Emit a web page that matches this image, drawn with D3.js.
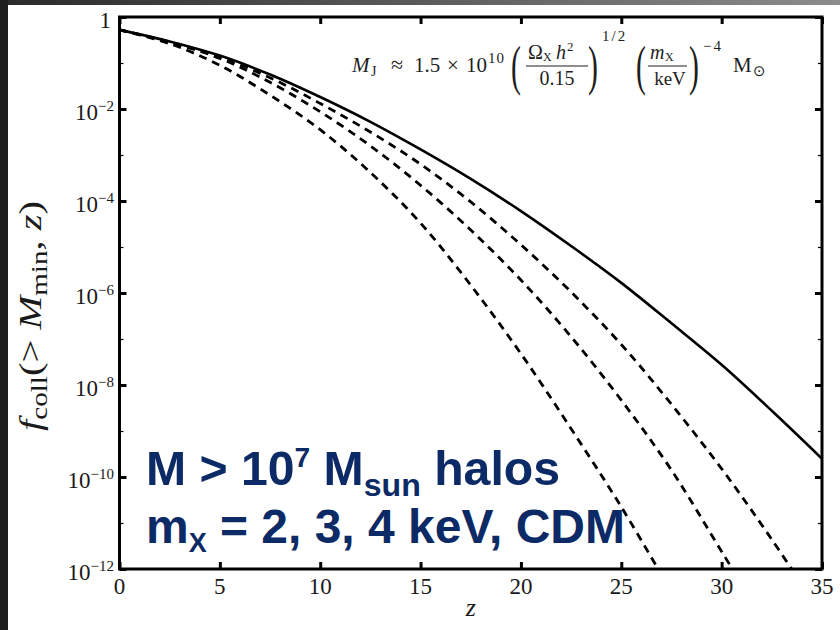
<!DOCTYPE html>
<html>
<head>
<meta charset="utf-8">
<script src="https://cdn.jsdelivr.net/npm/d3@7/dist/d3.min.js"></script>
<style>
  html, body { margin: 0; padding: 0; background: #fff; }
  svg { display: block; }
</style>
</head>
<body>
<svg id="chart" width="840" height="630"></svg>
<script>
// redshift grid of the read-off points
const zGrid = [0, 2.5, 5, 7.5, 10, 12.5, 15, 17.5, 20, 22.5, 25, 27.5, 30, 32.5, 35];

// f_coll(> M_min, z) (dashed ones run past the bottom edge)
const fCDM  = [0.525, 0.295, 0.145, 0.0562, 0.0182, 5.25e-3, 1.32e-3, 3.02e-4, 6.03e-5, 1.05e-5, 1.66e-6, 2.19e-7, 2.75e-8, 2.75e-9, 2.5e-10];
const f4keV = [0.525, 0.288, 0.135, 0.0479, 0.0132, 3.16e-3, 6.31e-4, 9.55e-5, 1.12e-5, 1.05e-6, 7.59e-8, 3.80e-9, 1.51e-10, 4.37e-12, 1.0e-13];
const f3keV = [0.525, 0.282, 0.126, 0.0380, 8.71e-3, 1.58e-3, 2.19e-4, 2.34e-5, 1.91e-6, 1.12e-7, 4.68e-9, 1.41e-10, 2.40e-12, 3.98e-14];
const f2keV = [0.525, 0.263, 0.0891, 0.0200, 3.55e-3, 4.17e-4, 3.31e-5, 1.48e-6, 4.79e-8, 1.12e-9, 2.24e-11, 3.16e-13];

// ticks
const xTicks = [0, 5, 10, 15, 20, 25, 30, 35];
const yMajor = [1, 1e-2, 1e-4, 1e-6, 1e-8, 1e-10, 1e-12];
const yMinor = [1e-1, 1e-3, 1e-5, 1e-7, 1e-9, 1e-11];
const yExp   = [0, -2, -4, -6, -8, -10, -12];

const lines = [
  { name: 'cdm', values: fCDM,  dashed: false },
  { name: 'k4',  values: f4keV, dashed: true },
  { name: 'k3',  values: f3keV, dashed: true },
  { name: 'k2',  values: f2keV, dashed: true }
];

const W = 840, H = 630;
const plot = { left: 119.5, right: 822, top: 17, bottom: 569 };
const serif = '"Liberation Serif", "DejaVu Serif", serif';

const svg = d3.select('#chart');

//page background with the dark slide edge
const defs = svg.append('defs');
const grad = defs.append('linearGradient').attr('id', 'topband');
grad.append('stop').attr('offset', '0%').attr('stop-color', '#2a2a2a');
grad.append('stop').attr('offset', '100%').attr('stop-color', '#8c8c8c');
defs.append('clipPath').attr('id', 'plotclip')
  .append('rect')
  .attr('x', plot.left).attr('y', plot.top)
  .attr('width', plot.right - plot.left).attr('height', plot.bottom - plot.top);

svg.append('rect').attr('width', W).attr('height', H).attr('fill', '#fff');
svg.append('rect').attr('width', W).attr('height', 5).attr('fill', 'url(#topband)');
svg.append('rect').attr('width', 8).attr('height', H).attr('fill', '#1e1e1e');

//scales
const x = d3.scaleLinear().domain([0, 35]).range([plot.left, plot.right]);
const y = d3.scaleLog().domain([1e-12, 1]).range([plot.bottom, plot.top]);

//curves
const lineGen = d3.line()
  .x((d, i) => x(zGrid[i]))
  .y(d => y(d))
  .curve(d3.curveCatmullRom.alpha(0.5));

const curves = svg.append('g').attr('clip-path', 'url(#plotclip)');
lines.forEach(l => {
  curves.append('path')
    .datum(l.values)
    .attr('fill', 'none')
    .attr('stroke', '#000')
    .attr('stroke-width', l.dashed ? 2.8 : 2.6)
    .attr('stroke-dasharray', l.dashed ? '8,6' : null)
    .attr('d', lineGen);
});

//axes: inward ticks on all four sides, labels drawn separately
const tickLen = 7;
const axisBottom = d3.axisBottom(x).tickValues(xTicks).tickSize(-tickLen).tickFormat('');
const axisTop = d3.axisTop(x).tickValues(xTicks).tickSize(-tickLen).tickFormat('');
const axisLeft = d3.axisLeft(y).tickValues(yMajor).tickSize(-tickLen).tickFormat('');
const axisRight = d3.axisRight(y).tickValues(yMajor).tickSize(-tickLen).tickFormat('');
const minorLeft = d3.axisLeft(y).tickValues(yMinor).tickSize(-4).tickFormat('');
const minorRight = d3.axisRight(y).tickValues(yMinor).tickSize(-4).tickFormat('');

function styleAxis(g, w) {
  g.select('.domain').remove();
  g.selectAll('.tick line').attr('stroke', '#000').attr('stroke-width', w);
}

svg.append('g').attr('transform', `translate(0,${plot.bottom})`).call(axisBottom).call(g => styleAxis(g, 3));
svg.append('g').attr('transform', `translate(0,${plot.top})`).call(axisTop).call(g => styleAxis(g, 3));
svg.append('g').attr('transform', `translate(${plot.left},0)`).call(axisLeft).call(g => styleAxis(g, 3));
svg.append('g').attr('transform', `translate(${plot.right},0)`).call(axisRight).call(g => styleAxis(g, 3));
svg.append('g').attr('transform', `translate(${plot.left},0)`).call(minorLeft).call(g => styleAxis(g, 1.2));
svg.append('g').attr('transform', `translate(${plot.right},0)`).call(minorRight).call(g => styleAxis(g, 1.2));

//frame
svg.append('rect')
  .attr('x', plot.left).attr('y', plot.top)
  .attr('width', plot.right - plot.left).attr('height', plot.bottom - plot.top)
  .attr('fill', 'none').attr('stroke', '#000').attr('stroke-width', 3);

//tick labels
const tickText = '#1a1a1a';
svg.append('g').selectAll('text')
  .data(xTicks)
  .join('text')
  .attr('x', d => x(d)).attr('y', 594)
  .attr('text-anchor', 'middle')
  .attr('font-family', serif).attr('font-size', 23).attr('fill', tickText)
  .text(d => d);

const yLab = svg.append('g').selectAll('text')
  .data(yMajor.map((v, i) => ({ v, e: yExp[i] })))
  .join('text')
  .attr('x', d => d.e === 0 ? 111 : 114)
  .attr('y', d => y(d.v) + 11)
  .attr('text-anchor', 'end')
  .attr('font-family', serif).attr('font-size', 23).attr('fill', tickText);
yLab.filter(d => d.e === 0).text('1');
yLab.filter(d => d.e !== 0).each(function(d) {
  const t = d3.select(this);
  t.append('tspan').text('10');
  t.append('tspan').attr('dy', -9).attr('font-size', 15).text('\u2212' + (-d.e));
});

//axis titles
svg.append('text')
  .attr('x', x(17.5)).attr('y', 616)
  .attr('text-anchor', 'middle')
  .attr('font-family', serif).attr('font-style', 'italic').attr('font-size', 26).attr('fill', tickText)
  .text('z');

const yTitle = svg.append('text')
  .attr('text-anchor', 'middle')
  .attr('font-family', serif).attr('font-size', 32).attr('fill', tickText);
yTitle.append('tspan').attr('font-style', 'italic').text('f');
yTitle.append('tspan').attr('font-size', 23).attr('dy', 6).text('coll');
yTitle.append('tspan').attr('dy', -6).text('(> ');
yTitle.append('tspan').attr('font-style', 'italic').text('M');
yTitle.append('tspan').attr('font-size', 23).attr('dy', 6).text('min');
yTitle.append('tspan').attr('dy', -6).text(', ');
yTitle.append('tspan').attr('font-style', 'italic').text('z');
yTitle.append('tspan').text(')');
const yTitleLen = yTitle.node().getComputedTextLength();
yTitle.attr('transform', `translate(41,316) rotate(-90) scale(${230 / yTitleLen},1)`);

//Jeans mass formula
const eq = svg.append('g').attr('font-family', serif).attr('fill', '#1e1e1e');
function put(xp, yp, str, size, opts = {}) {
  const t = eq.append('text').attr('x', xp).attr('y', yp).attr('font-size', size).text(str);
  if (opts.italic) t.attr('font-style', 'italic');
  if (opts.anchor) t.attr('text-anchor', opts.anchor);
  if (opts.family) t.attr('font-family', opts.family);
  if (opts.spacing) t.attr('letter-spacing', opts.spacing);
  return t;
}
function paren(xp, ch) {
  eq.append('text').attr('transform', `translate(${xp},84) scale(0.55,1)`)
    .attr('font-size', 54).attr('font-weight', 300).text(ch);
}
put(352, 72, 'M', 21, { italic: true });
put(371, 76, 'J', 14);
put(391, 72, '\u2248', 22);
put(414, 72, '1.5', 21);
put(447, 72, '\u00d7', 21);
put(466, 72, '10', 21);
put(488, 63, '10', 15, { spacing: 1 });
paren(511, '(');
put(528, 59, '\u03a9', 20);
put(543, 61, 'X', 12);
put(556, 59, 'h', 20, { italic: true });
put(567, 51, '2', 13);
eq.append('line').attr('x1', 526).attr('x2', 588).attr('y1', 66).attr('y2', 66).attr('stroke', '#1e1e1e').attr('stroke-width', 1.2);
put(557, 85, '0.15', 20, { anchor: 'middle' });
paren(588, ')');
put(602, 41, '1/2', 15, { spacing: 2 });
paren(636, '(');
put(650, 59, 'm', 20, { italic: true });
put(665, 61, 'X', 12);
eq.append('line').attr('x1', 648).attr('x2', 687).attr('y1', 66).attr('y2', 66).attr('stroke', '#1e1e1e').attr('stroke-width', 1.2);
put(670, 85, 'keV', 19, { anchor: 'middle' });
paren(689, ')');
put(703, 51, '\u22124', 15, { spacing: 2 });
put(733, 72, 'M', 21);
put(753, 76, '\u2299', 15, { family: '"DejaVu Sans", sans-serif' });

//big annotation text, squeezed to the narrow bold look
const navy = '#0b2a66';
function bigLine(x0, base, width, build) {
  const t = svg.append('text')
    .attr('font-family', '"Liberation Sans Narrow", "Liberation Sans", Arial, sans-serif')
    .attr('font-weight', 'bold').attr('font-size', 48).attr('fill', navy);
  build(t);
  const w = t.node().getComputedTextLength();
  t.attr('transform', `translate(${x0},${base}) scale(${width / w},1)`);
}
bigLine(146, 485, 414, t => {
  t.append('tspan').text('M > 10');
  t.append('tspan').attr('font-size', 28).attr('dy', -18).text('7');
  t.append('tspan').attr('dy', 18).text(' M');
  t.append('tspan').attr('font-size', 32).attr('dy', 11).text('sun');
  t.append('tspan').attr('dy', -11).text(' halos');
});
bigLine(146, 543, 479, t => {
  t.append('tspan').text('m');
  t.append('tspan').attr('font-size', 27).attr('dy', 9).text('X');
  t.append('tspan').attr('dy', -9).text(' = 2, 3, 4 keV, CDM');
});
</script>
</body>
</html>
